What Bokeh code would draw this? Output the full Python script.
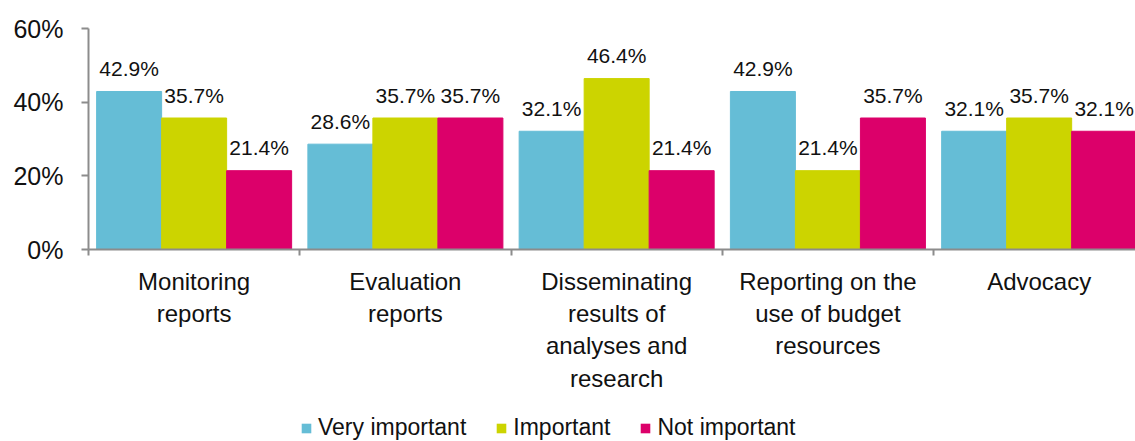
from bokeh.plotting import figure
from bokeh.layouts import column
from bokeh.models import Range1d, FixedTicker, ColumnDataSource, Legend, LegendItem
from bokeh.core.properties import value
from bokeh.embed import file_html
from bokeh.resources import INLINE

categories = ["Monitoring\nreports", "Evaluation\nreports",
              "Disseminating\nresults of\nanalyses and\nresearch",
              "Reporting on the\nuse of budget\nresources", "Advocacy"]
very_important = [42.9, 28.6, 32.1, 42.9, 32.1]
important = [35.7, 35.7, 46.4, 21.4, 35.7]
not_important = [21.4, 35.7, 21.4, 35.7, 32.1]
series_names = ["Very important", "Important", "Not important"]
y_ticks = [0, 20, 40, 60]
y_tick_labels = ["0%", "20%", "40%", "60%"]

colors = ["#65BDD6", "#CCD400", "#DC006A"]
axis_color = "#8C8C8C"
FONT = "Liberation Sans"

p = figure(width=1135, height=405, output_backend="svg", toolbar_location=None,
           x_range=Range1d(0, 4.956), y_range=Range1d(0, 60),
           min_border_left=88, min_border_right=0, min_border_top=28,
           min_border_bottom=156)
p.outline_line_color = None
p.xgrid.visible = False
p.ygrid.visible = False

bw = 0.3077
for k, (vals, col) in enumerate(zip([very_important, important, not_important], colors)):
    xs = [i + 0.5 + (k - 1) * bw for i in range(len(categories))]
    src = ColumnDataSource(dict(x=xs, top=vals, lab=[f"{v:.1f}%" for v in vals]))
    p.vbar(x="x", top="top", width=bw, source=src, fill_color=col, line_color=col)
    p.text(x="x", y="top", text="lab", source=src, text_align="center",
           text_baseline="alphabetic", y_offset=-23, text_font=value(FONT),
           text_font_size="21px", text_color="#111111")

# x axis
xa = p.xaxis[0]
xa.ticker = FixedTicker(ticks=[i + 0.5 for i in range(len(categories))],
                        minor_ticks=list(range(len(categories) + 1)))
xa.major_label_overrides = {i + 0.5: c for i, c in enumerate(categories)}
xa.major_tick_line_color = None
xa.minor_tick_line_color = axis_color
xa.minor_tick_out = 6
xa.minor_tick_in = 0
xa.minor_tick_line_width = 2
xa.axis_line_color = axis_color
xa.axis_line_width = 2
xa.major_label_text_font = FONT
xa.major_label_text_font_size = "24px"
xa.major_label_text_color = "#111111"
xa.major_label_standoff = 12

# y axis
ya = p.yaxis[0]
ya.ticker = FixedTicker(ticks=y_ticks)
ya.major_label_overrides = {t: l for t, l in zip(y_ticks, y_tick_labels)}
ya.minor_tick_line_color = None
ya.major_tick_line_color = axis_color
ya.major_tick_line_width = 2
ya.major_tick_out = 7
ya.major_tick_in = 0
ya.axis_line_color = axis_color
ya.axis_line_width = 2
ya.major_label_text_font = FONT
ya.major_label_text_font_size = "25px"
ya.major_label_text_color = "#111111"
ya.major_label_standoff = 18

# legend in its own strip below the chart
p2 = figure(width=1135, height=36, output_backend="svg", toolbar_location=None,
            x_range=Range1d(0, 1), y_range=Range1d(0, 1),
            min_border_left=0, min_border_right=0, min_border_top=0, min_border_bottom=0)
p2.axis.visible = False
p2.grid.visible = False
p2.outline_line_color = None
items = []
for n, col in zip(series_names, colors):
    # invisible placeholder (zero height, off-range) so the legend swatch has a colour
    r = p2.vbar(x=[-10], top=[0], bottom=[0], width=0.1, fill_color=col, line_color=None)
    items.append(LegendItem(label=n, renderers=[r]))
legend = Legend(items=items, orientation="horizontal", location=(212, 0),
                glyph_width=12, glyph_height=12, label_standoff=6, spacing=29,
                padding=0, margin=0, border_line_color=None, background_fill_alpha=0,
                label_text_font=FONT, label_text_font_size="23px",
                label_text_color="#111111", label_height=12)
p2.add_layout(legend, "center")

open("out.html", "w").write(file_html(column(p, p2, spacing=0), INLINE))
